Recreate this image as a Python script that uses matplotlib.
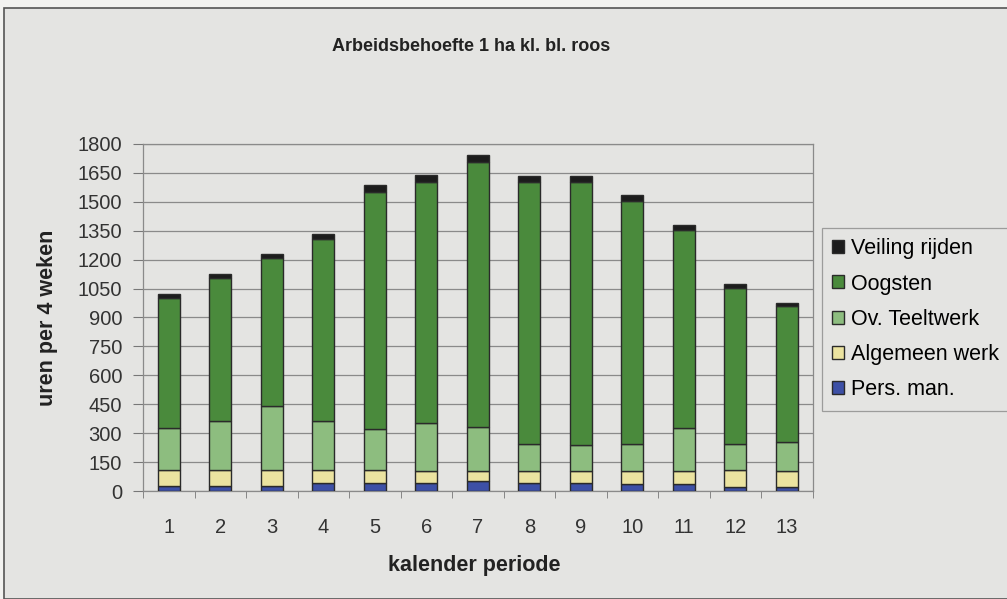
import numpy as np
import matplotlib
matplotlib.use("Agg")
import matplotlib.pyplot as plt
from matplotlib.patches import Rectangle

# periods 1..13
periods = [str(i) for i in range(1, 14)]

pers_man  = [26, 29, 29, 40, 43, 43, 52, 43, 43, 35, 35, 22, 22]
algemeen  = [83, 80, 80, 69, 66, 63, 54, 63, 63, 71, 71, 87, 84]
ov_teelt  = [220, 256, 330, 256, 211, 245, 228, 141, 133, 138, 223, 138, 147]
oogsten   = [674, 740, 767, 941, 1232, 1253, 1372, 1353, 1361, 1261, 1026, 807, 704]
veiling   = [19, 20, 22, 26, 34, 34, 36, 35, 35, 28, 25, 20, 20]

series = [("Pers. man.", pers_man, "#3d50a6"),
          ("Algemeen werk", algemeen, "#ebe3a0"),
          ("Ov. Teeltwerk", ov_teelt, "#8dbd7f"),
          ("Oogsten", oogsten, "#4a8a3c"),
          ("Veiling rijden", veiling, "#1c1c1c")]

plt.rcParams['font.family'] = ['Liberation Sans', 'DejaVu Sans']

bg = "#e4e4e2"
fig = plt.figure(figsize=(10.07, 5.99), dpi=100)
fig.patch.set_facecolor("#f2f2f0")
# chart area frame
fig.patches.append(Rectangle((0.004, 0), 1.0, 0.986, transform=fig.transFigure,
                             facecolor=bg, edgecolor="#555555", lw=1.2, zorder=-1))

ax = fig.add_axes([0.142, 0.180, 0.665, 0.580])
ax.set_facecolor(bg)

x = np.arange(1, 14)
bottom = np.zeros(13)
handles = {}
for name, vals, col in series:
    b = ax.bar(x, vals, width=0.43, bottom=bottom, color=col,
               edgecolor="#2a2a2a", linewidth=1.0, zorder=3)
    handles[name] = b
    bottom += np.array(vals)

ax.set_xlim(0.5, 13.5)
ax.set_ylim(0, 1800)
ax.set_yticks(np.arange(0, 1801, 150))
ax.set_xticks(x)
ax.set_xticklabels(periods)
ax.set_xticks(np.arange(0.5, 13.6, 1), minor=True)
ax.tick_params(axis='x', which='major', length=0, pad=19, labelsize=14.5, colors="#333333")
ax.tick_params(axis='x', which='minor', length=5, color="#777777")
ax.tick_params(axis='y', length=7, color="#777777", labelsize=14.5, labelcolor="#333333", pad=8)
ax.grid(axis='y', color="#8a8a8a", lw=0.9, zorder=0)
for s in ax.spines.values():
    s.set_color("#8a8a8a")
    s.set_linewidth(0.9)

ax.set_ylabel("uren per 4 weken", fontsize=15.5, fontweight='bold', va='center', color="#222222")
ax.yaxis.set_label_coords(-0.143, 0.5)
ax.set_xlabel("kalender periode", fontsize=15.5, fontweight='bold', va='center', color="#222222")
ax.xaxis.set_label_coords(0.495, -0.213)
fig.text(0.468, 0.923, "Arbeidsbehoefte 1 ha kl. bl. roos", ha='center', va='center',
         fontsize=13, fontweight='bold', color="#222222")

order = ["Veiling rijden", "Oogsten", "Ov. Teeltwerk", "Algemeen werk", "Pers. man."]
leg = fig.legend([handles[n] for n in order], order, loc='upper left',
                 bbox_to_anchor=(0.816, 0.620), frameon=True, fancybox=False,
                 fontsize=15.5, handlelength=0.55, handleheight=0.55, handletextpad=0.3,
                 labelspacing=0.66, borderpad=0.5, borderaxespad=0, edgecolor="#8a8a8a", facecolor=bg)
leg.get_frame().set_linewidth(0.9)

fig.savefig("out.png", dpi=100, facecolor=fig.get_facecolor())
